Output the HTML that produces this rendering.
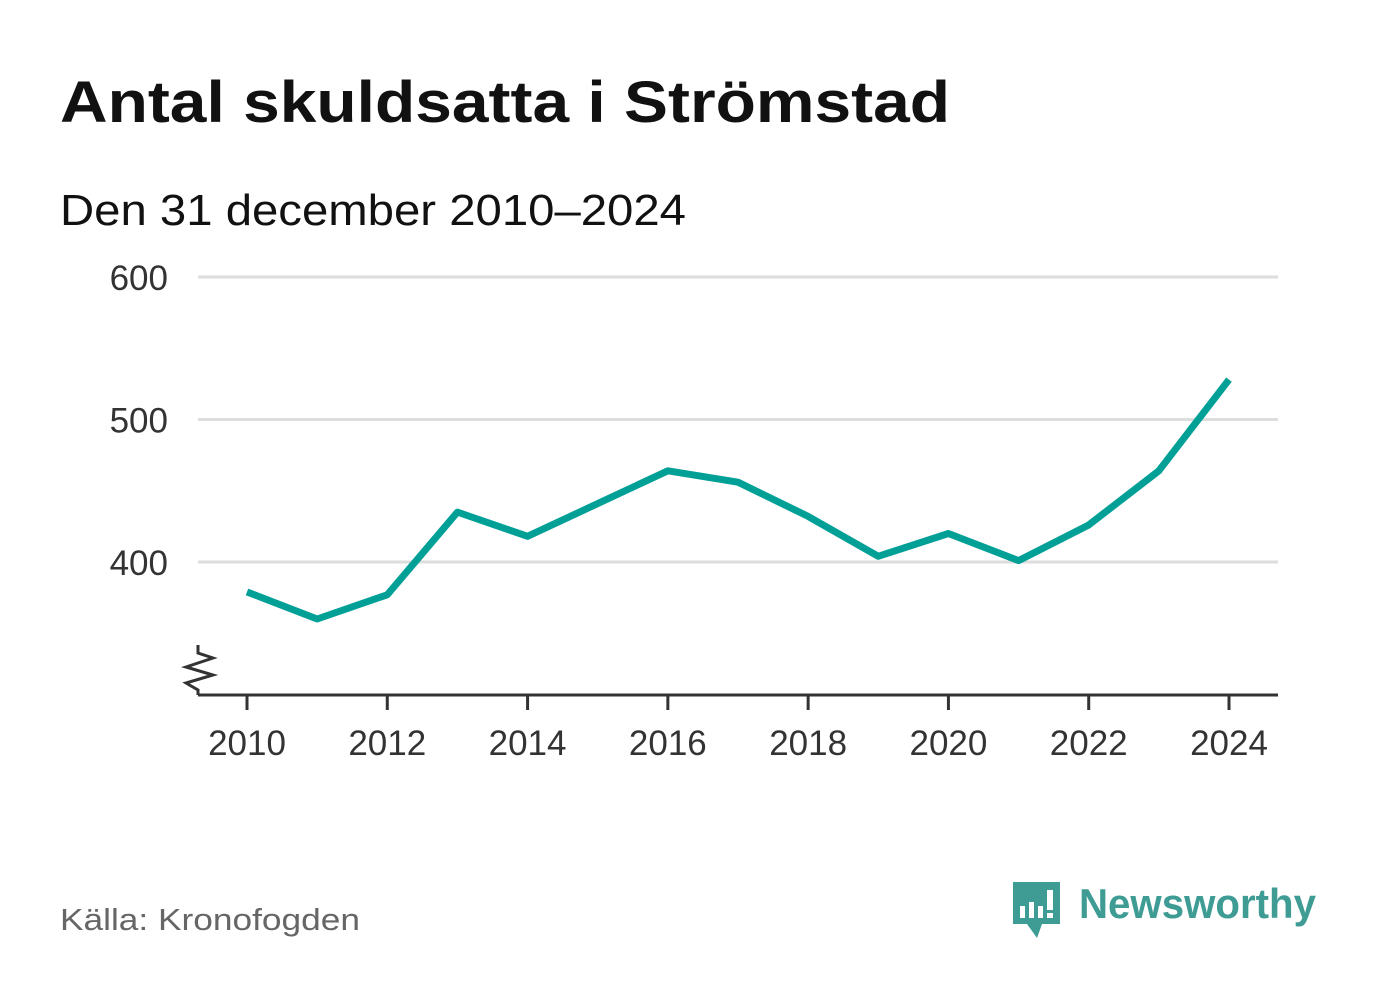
<!DOCTYPE html>
<html><head><meta charset="utf-8"><style>
body{margin:0;background:#fff;font-family:"Liberation Sans",sans-serif}
svg text{font-family:"Liberation Sans",sans-serif}
</style></head><body>
<svg width="1382" height="999" xmlns="http://www.w3.org/2000/svg">
<rect width="1382" height="999" fill="#fff"/>
<text x="60" y="122" font-size="58" font-weight="bold" fill="#111" textLength="890" lengthAdjust="spacingAndGlyphs">Antal skuldsatta i Strömstad</text>
<text x="60" y="225" font-size="44" fill="#111" textLength="626" lengthAdjust="spacingAndGlyphs">Den 31 december 2010–2024</text>
<g id="grid"></g>
<g id="xax"></g>
<path d="M198,645 L198,653 L213,658 L186,667 L213,675 L186,683 L198,690 L198,695" fill="none" stroke="#333" stroke-width="3"/>
<line x1="198" y1="695" x2="1278" y2="695" stroke="#333" stroke-width="3"/>
<path id="line" fill="none" stroke="#00a096" stroke-width="7" stroke-linejoin="round"/>
<text x="60" y="930" font-size="31" fill="#666" textLength="300" lengthAdjust="spacingAndGlyphs">Källa: Kronofogden</text>
<g>
<path d="M1013,882 h47 v42 h-18 l-5,14 l-10,-14 h-14 z" fill="#3e9c94"/>
<rect x="1020" y="906" width="5" height="12" fill="#fff"/>
<rect x="1029" y="902" width="5" height="16" fill="#fff"/>
<rect x="1038" y="906" width="5" height="12" fill="#fff"/>
<rect x="1047" y="890" width="6" height="20" fill="#fff"/>
<rect x="1047" y="913" width="6" height="5" fill="#fff"/>
<text x="1079" y="918" font-size="42" font-weight="bold" fill="#3e9c94" textLength="237" lengthAdjust="spacingAndGlyphs">Newsworthy</text>
</g>
</svg>
<script>
const years=[2010,2011,2012,2013,2014,2015,2016,2017,2018,2019,2020,2021,2022,2023,2024];
const values=[379,360,377,435,418,441,464,456,432,404,420,401,426,464,528];
const yTicks=[400,500,600];
const xTicks=[2010,2012,2014,2016,2018,2020,2022,2024];
const ns="http://www.w3.org/2000/svg";
const x=v=>247+(v-2010)*(1229-247)/14;
const y=v=>562-(v-400)*1.425;
const grid=document.getElementById('grid');
yTicks.forEach(t=>{
 const l=document.createElementNS(ns,'line');
 
 
 l.setAttribute('x1',198);l.setAttribute('x2',1278);l.setAttribute('y1',y(t));l.setAttribute('y2',y(t));
 l.setAttribute('stroke','#ddd');l.setAttribute('stroke-width','3');grid.appendChild(l);
 const tx=document.createElementNS(ns,'text');
 
 
 tx.setAttribute('x',168);tx.setAttribute('y',y(t)+13);tx.setAttribute('text-anchor','end');
 tx.setAttribute('font-size','35');tx.setAttribute('fill','#333');tx.textContent=t;grid.appendChild(tx);
});
const xa=document.getElementById('xax');
xTicks.forEach(t=>{
 const l=document.createElementNS(ns,'line');
 
 
 l.setAttribute('x1',x(t));l.setAttribute('x2',x(t));l.setAttribute('y1',695);l.setAttribute('y2',710);
 l.setAttribute('stroke','#333');l.setAttribute('stroke-width','3');xa.appendChild(l);
 const tx=document.createElementNS(ns,'text');
 
 
 tx.setAttribute('x',x(t));tx.setAttribute('y',755);tx.setAttribute('text-anchor','middle');
 tx.setAttribute('font-size','35');tx.setAttribute('fill','#333');tx.textContent=t;xa.appendChild(tx);
});
document.getElementById('line').setAttribute('d',years.map((yr,i)=>(i?'L':'M')+x(yr)+','+y(values[i])).join(' '));
</script>
</body></html>
